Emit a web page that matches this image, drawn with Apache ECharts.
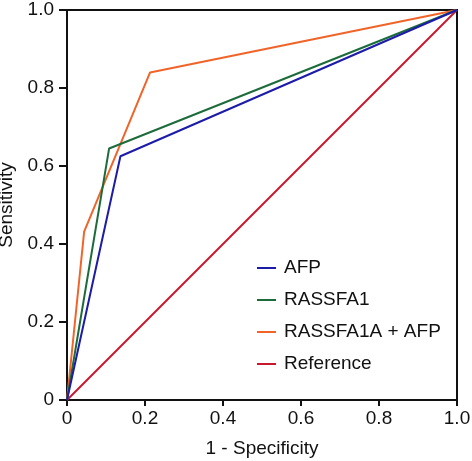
<!DOCTYPE html>
<html><head><meta charset="utf-8">
<script src="https://cdn.jsdelivr.net/npm/echarts@6/dist/echarts.min.js"></script>
<style>html,body{margin:0;padding:0;background:#fff}#c{width:472px;height:461px}</style>
</head><body><div id="c"></div>
<script>
const seriesNames = ['AFP', 'RASSFA1', 'RASSFA1A + AFP', 'Reference'];
const afp = [[0, 0], [0.137, 0.625], [1, 1]];
const rassfa1 = [[0, 0], [0.108, 0.645], [1, 1]];
const combined = [[0, 0], [0.044, 0.432], [0.213, 0.840], [1, 1]];
const reference = [[0, 0], [1, 1]];
const colors = ['#1c1ca8', '#1d6b3b', '#f0642a', '#c8182f'];
const xTitle = '1 - Specificity';
const yTitle = 'Sensitivity';

const font = '"Liberation Sans", Arial, Helvetica, sans-serif';
const fs = 19;
const fmt = v => v === 0 ? '0' : v.toFixed(1);
const chart = echarts.init(document.getElementById('c'));
const datas = [afp, rassfa1, combined, reference];
chart.setOption({
  animation: false,
  grid: {left: 67, right: 15, top: 10, bottom: 61, show: true, borderColor: '#111', borderWidth: 2,
         containLabel: false, outerBoundsMode: 'none'},
  legend: {
    orient: 'vertical', left: 257, top: 257, icon: 'rect', itemWidth: 19, itemHeight: 2,
    itemGap: 10, padding: 0,
    textStyle: {fontFamily: font, fontSize: fs, color: '#111', lineHeight: 22, padding: [0, 0, 0, 3]},
    data: seriesNames
  },
  xAxis: {
    type: 'value', min: 0, max: 1, interval: 0.2,
    name: xTitle, nameLocation: 'middle', nameGap: 39,
    nameTextStyle: {fontFamily: font, fontSize: fs, color: '#111'},
    axisLine: {lineStyle: {color: '#111', width: 2}},
    axisTick: {show: true, length: 6, lineStyle: {color: '#111', width: 2}},
    axisLabel: {formatter: fmt, fontFamily: font, fontSize: fs, color: '#111', margin: 9},
    splitLine: {show: false}
  },
  yAxis: {
    type: 'value', min: 0, max: 1, interval: 0.2,
    name: yTitle, nameLocation: 'middle', nameGap: 46,
    nameTextStyle: {fontFamily: font, fontSize: fs, color: '#111'},
    axisLine: {show: true, lineStyle: {color: '#111', width: 2}},
    axisTick: {show: true, length: 8, lineStyle: {color: '#111', width: 2}},
    axisLabel: {formatter: fmt, fontFamily: font, fontSize: fs, color: '#111', margin: 13},
    splitLine: {show: false}
  },
  series: seriesNames.map((n, i) => ({
    name: n, type: 'line', data: datas[i], symbol: 'none',
    lineStyle: {color: colors[i], width: 2}, itemStyle: {color: colors[i]}, z: 10 - i
  }))
});
</script></body></html>
